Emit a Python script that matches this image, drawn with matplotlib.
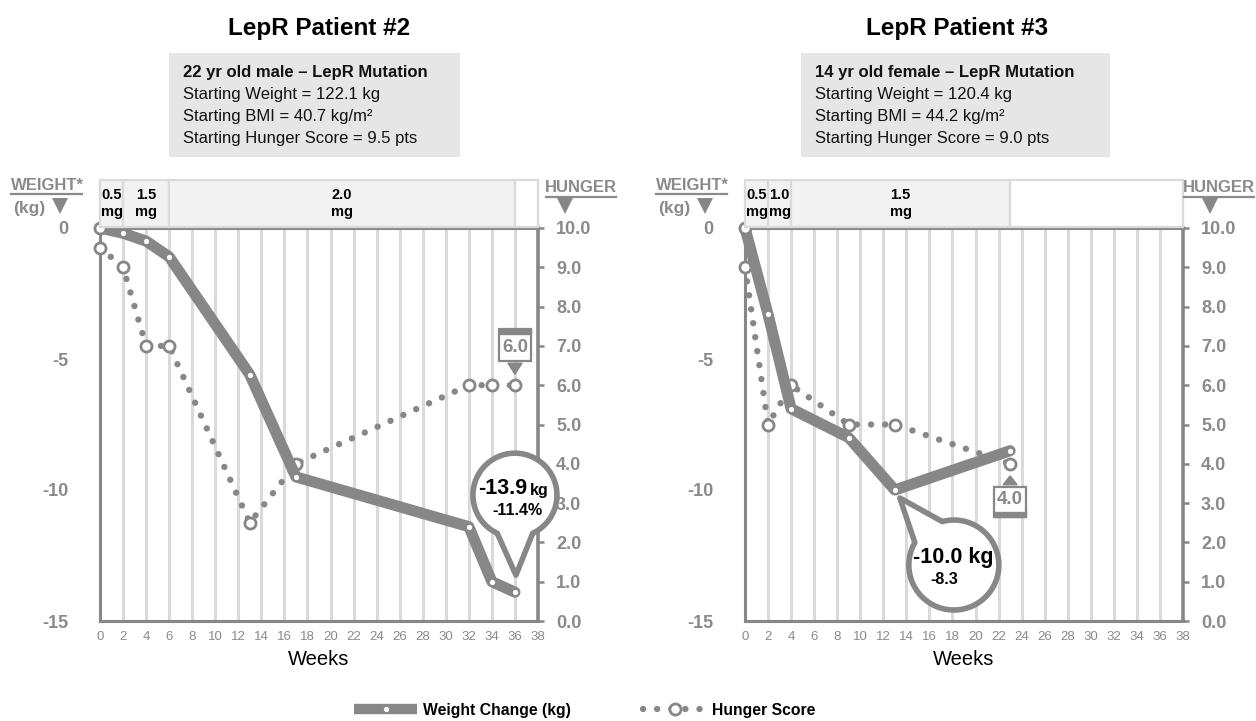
import numpy as np
import matplotlib
matplotlib.use("Agg")
import matplotlib.pyplot as plt
import matplotlib.patches as mpatches
import matplotlib.transforms as mtransforms
from matplotlib.lines import Line2D
from matplotlib.text import Text
from matplotlib import font_manager

W, H = 1256, 721

# ---------------- data ----------------
week_ticks = list(range(0, 40, 2))
weight_ticks = [-15, -10, -5, 0]
hunger_ticks = list(range(0, 11))

p2_title = "LepR Patient #2"
p2_info = ["22 yr old male \u2013 LepR Mutation", "Starting Weight = 122.1 kg",
           "Starting BMI = 40.7 kg/m\u00b2", "Starting Hunger Score = 9.5 pts"]
p2_weeks = [0, 2, 4, 6, 13, 17, 32, 34, 36]
p2_weight = [0.0, -0.2, -0.5, -1.1, -5.6, -9.5, -11.4, -13.5, -13.9]
p2_hunger = [9.5, 9.0, 7.0, 7.0, 2.5, 4.0, 6.0, 6.0, 6.0]
p2_dose_edges = [0, 2, 6, 36, 38]
p2_dose_labels = ["0.5\nmg", "1.5\nmg", "2.0\nmg", ""]
p2_loss = ["-13.9", "kg", "-11.4%"]

p3_title = "LepR Patient #3"
p3_info = ["14 yr old female \u2013 LepR Mutation", "Starting Weight = 120.4 kg",
           "Starting BMI = 44.2 kg/m\u00b2", "Starting Hunger Score = 9.0 pts"]
p3_weeks = [0, 2, 4, 9, 13, 23]
p3_weight = [0.0, -3.3, -6.9, -8.0, -10.0, -8.5]
p3_hunger = [9.0, 5.0, 6.0, 5.0, 5.0, 4.0]
p3_dose_edges = [0, 2, 4, 23, 38]
p3_dose_labels = ["0.5\nmg", "1.0\nmg", "1.5\nmg", ""]
p3_loss = ["-10.0 kg", "-8.3"]

# ---------------- style ----------------
GRAY = '#878787'
TXT = '#8a8a8a'
GRID = '#dadada'
BAND = '#f2f2f2'
BOX = '#e6e6e6'
DOTS = (0, (0.01, 2.2))


def has_font(name):
    try:
        font_manager.findfont(font_manager.FontProperties(family=name), fallback_to_default=False)
        return True
    except Exception:
        return False


NARROW = 'Liberation Sans Narrow' if has_font('Liberation Sans Narrow') else 'Liberation Sans'
plt.rcParams['font.family'] = ['Liberation Sans', 'DejaVu Sans']


def fx(px):
    return px / W


def fy(py):
    return 1 - py / H


fig = plt.figure(figsize=(W / 100, H / 100), dpi=100)


def offset_tr(ax, x, y):
    # pixel offsets (y up) measured from a data point
    return mtransforms.Affine2D() + mtransforms.ScaledTranslation(x, y, ax.transData)


def balloon(ax, x, y, cx, cy, r, tip, a_from, a_to, lines):
    tr = offset_tr(ax, x, y)
    t = np.radians(np.linspace(a_to, a_from + 360, 120))
    pts = np.column_stack([cx + r * np.cos(t), cy + r * np.sin(t)])
    pts = np.vstack([pts, [tip]])
    poly = mpatches.Polygon(pts, closed=True, fc='white', ec=GRAY, lw=4,
                            joinstyle='round', transform=tr, zorder=5)
    fig.add_artist(poly)
    for (tx, ty, s, size, ha) in lines:
        fig.add_artist(Text(tx, ty, s, transform=tr, ha=ha, va='center', fontsize=size,
                            fontweight='bold', color='black', zorder=6))


def value_box(ax, x, y, label, above):
    tr = offset_tr(ax, x, y)
    if above:
        y0, y1, bar, tri = 24, 56, 51, [(-7, 22), (7, 22), (0, 11)]
    else:
        y0, y1, bar, tri = -53, -23, -53, [(-7, -21), (7, -21), (0, -12)]
    fig.add_artist(mpatches.Rectangle((-16, y0), 32, y1 - y0, fc='white', ec=GRAY, lw=1.6,
                                      transform=tr, zorder=5))
    fig.add_artist(mpatches.Rectangle((-16, bar), 32, 5, fc=GRAY, ec=GRAY, lw=1.0,
                                      transform=tr, zorder=5))
    fig.add_artist(mpatches.Polygon(tri, closed=True, fc=GRAY, ec=GRAY, lw=1,
                                    transform=tr, zorder=5))
    ym = (y0 + y1) / 2 + (-2 if above else 2)
    fig.add_artist(Text(0, ym, label, transform=tr, ha='center', va='center', fontsize=13.5,
                        fontweight='bold', color=TXT, zorder=6))


def panel(dx, title, info, box_right, weeks, weight, hunger, edges, dose_labels, hunger_x):
    # title and info box
    fig.text(fx(319 + dx * 0.989), fy(28), title, ha='center', va='center',
             fontsize=17.5, fontweight='bold')
    bx0 = 169 + dx - (13 if dx else 0)
    fig.add_artist(mpatches.Rectangle((fx(bx0), fy(157)), fx(box_right - bx0), 104 / H,
                                      transform=fig.transFigure, fc=BOX, ec='none'))
    for i, (s, yy) in enumerate(zip(info, [73, 94, 116, 138])):
        fig.text(fx(bx0 + 14), fy(yy), s, ha='left', va='center', fontsize=12,
                 fontweight='bold' if i == 0 else 'normal', color='#111111')

    # main axes: weight (left) and hunger (right)
    ax_w = fig.add_axes([fx(100 + dx), fy(621), 438 / W, 393 / H])
    ax_h = ax_w.twinx()
    ax_w.set_xlim(0, 38)
    ax_w.set_ylim(-15, 0)
    ax_h.set_ylim(0, 10)

    for g in week_ticks[1:-1]:
        ax_w.axvline(g, color=GRID, lw=2.2, zorder=0)

    for sp in ['left', 'bottom', 'top']:
        ax_w.spines[sp].set_color(GRAY)
        ax_w.spines[sp].set_linewidth(2.2)
    ax_w.spines['right'].set_visible(False)
    for sp in ['left', 'bottom', 'top']:
        ax_h.spines[sp].set_visible(False)
    ax_h.spines['right'].set_color(GRAY)
    ax_h.spines['right'].set_linewidth(2.6)

    ax_w.set_xticks(week_ticks)
    ax_w.set_xticklabels([str(v) for v in week_ticks], fontsize=9.5, color=TXT, family=NARROW)
    ax_w.tick_params(axis='x', length=0, pad=7)
    ax_w.set_yticks(weight_ticks)
    ax_w.set_yticklabels([str(v) for v in weight_ticks], fontsize=13, fontweight='bold', color=TXT)
    ax_w.tick_params(axis='y', length=0, pad=23)
    ax_h.set_yticks(hunger_ticks)
    ax_h.set_yticklabels([f"{v:.1f}" for v in hunger_ticks], fontsize=13, fontweight='bold', color=TXT)
    ax_h.tick_params(axis='y', direction='out', length=4, width=1.8, color=GRAY, pad=9)
    ax_w.set_xlabel("Weeks", fontsize=14.5, labelpad=5)

    # hunger score: dotted line + open circles at visits
    ax_h.plot(weeks, hunger, color=GRAY, lw=4.6, linestyle=DOTS,
              dash_capstyle='round', zorder=2, clip_on=False)
    ax_h.plot(weeks, hunger, ls='none', marker='o', ms=8, mfc='white', mec=GRAY, mew=2,
              zorder=3, clip_on=False)
    # weight change: thick line drawn on top, in weight coordinates
    ax_h.plot(weeks, weight, color=GRAY, lw=8, solid_joinstyle='round', solid_capstyle='round',
              transform=ax_w.transData, zorder=4, clip_on=False)
    ax_h.plot(weeks[1:], weight[1:], ls='none', marker='o', ms=3.8, mfc='white', mec='white',
              mew=0, transform=ax_w.transData, zorder=5, clip_on=False)
    ax_h.plot(weeks[:1], weight[:1], ls='none', marker='o', ms=8, mfc='white', mec=GRAY, mew=2,
              transform=ax_w.transData, zorder=5, clip_on=False)

    # dose band
    axb = fig.add_axes([fx(100 + dx), fy(227), 438 / W, 47 / H])
    axb.set_xlim(0, 38)
    axb.set_ylim(0, 1)
    axb.axis('off')
    for x0, x1, lab in zip(edges[:-1], edges[1:], dose_labels):
        axb.add_patch(mpatches.Rectangle((x0, 0), x1 - x0, 1, fc=BAND if lab else 'white',
                                         ec=GRID, lw=1.6, clip_on=False))
        axb.text((x0 + x1) / 2, 0.5, lab, ha='center', va='center', fontsize=10.5,
                 fontweight='bold', linespacing=1.25)

    # axis captions
    fig.text(fx(47 + dx), fy(185), "WEIGHT*", ha='center', va='center', fontsize=12,
             fontweight='bold', color=TXT, family=NARROW)
    fig.add_artist(Line2D([fx(11 + dx), fx(82 + dx)], [fy(194), fy(194)], color=TXT, lw=1.6,
                          transform=fig.transFigure))
    fig.text(fx(29 + dx), fy(208), "(kg)", ha='center', va='center', fontsize=12.5,
             fontweight='bold', color=TXT, family=NARROW)
    fig.add_artist(Line2D([fx(60 + dx)], [fy(206)], marker='v', ms=12, color=GRAY, mew=0,
                          transform=fig.transFigure))
    fig.text(fx(hunger_x), fy(187), "HUNGER", ha='center', va='center', fontsize=12,
             fontweight='bold', color=TXT, family=NARROW)
    fig.add_artist(Line2D([fx(hunger_x - 35), fx(hunger_x + 35)], [fy(197), fy(197)], color=TXT,
                          lw=1.6, transform=fig.transFigure))
    fig.add_artist(Line2D([fx(565 + dx)], [fy(206)], marker='v', ms=12, color=GRAY, mew=0,
                          transform=fig.transFigure))
    return ax_w, ax_h


ax2w, ax2h = panel(0, p2_title, p2_info, 460, p2_weeks, p2_weight, p2_hunger,
                   p2_dose_edges, p2_dose_labels, 581)
ax3w, ax3h = panel(645, p3_title, p3_info, 1110, p3_weeks, p3_weight, p3_hunger,
                   p3_dose_edges, p3_dose_labels, 1219)

# callouts
value_box(ax2h, p2_weeks[-1], p2_hunger[-1], f"{p2_hunger[-1]:.1f}", above=True)
value_box(ax3h, p3_weeks[-1], p3_hunger[-1], f"{p3_hunger[-1]:.1f}", above=False)

balloon(ax2w, p2_weeks[-1], p2_weight[-1], 0, 97, 42, (1, 17), -115, -65,
        [(12, 104, p2_loss[0], 15.5, 'right'), (15, 102, p2_loss[1], 11.5, 'left'),
         (2, 82, p2_loss[2], 11.5, 'center')])
i3 = int(np.argmin(p3_weight))
balloon(ax3w, p3_weeks[i3], p3_weight[i3], 59, -75, 45, (5, -8), 105, 150,
        [(58, -67, p3_loss[0], 15.5, 'center'), (49, -89, p3_loss[1], 11.5, 'center')])

# legend
handles = [
    Line2D([0], [0], color=GRAY, lw=7.5, solid_capstyle='butt', marker='o', ms=3.8,
           mfc='white', mec='white', mew=0),
    Line2D([0], [0], color=GRAY, lw=4.6, linestyle=DOTS, dash_capstyle='round',
           marker='o', ms=8, mfc='white', mec=GRAY, mew=2),
]
fig.legend(handles, ["Weight Change (kg)", "Hunger Score"], loc='center',
           bbox_to_anchor=(fx(585), fy(710)), ncol=2, frameon=False, handlelength=4,
           columnspacing=4.6, handletextpad=0.4, prop=dict(weight='bold', size=11.3))

fig.savefig("out.png", dpi=100)
